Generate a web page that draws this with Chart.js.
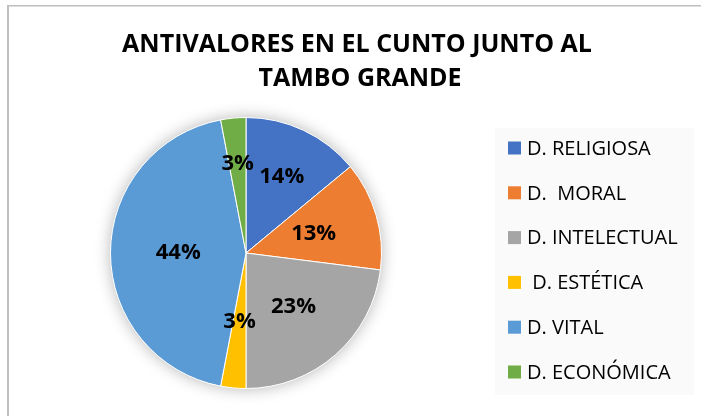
<!DOCTYPE html>
<html>
<head>
<meta charset="utf-8">
<script src="https://cdn.jsdelivr.net/npm/chart.js@4.4.0/dist/chart.umd.min.js"></script>
<style>
  html, body { margin: 0; padding: 0; background: #ffffff; }
  #chartBox { position: relative; width: 701px; height: 416px; }
</style>
</head>
<body>
<div id="chartBox">
  <canvas id="pieChart" width="701" height="416"></canvas>
</div>
<script>
// Chart data
var categories = ['D. RELIGIOSA', 'D.  MORAL', 'D. INTELECTUAL', ' D. ESTÉTICA', 'D. VITAL', 'D. ECONÓMICA'];
var percentValues = [14, 13, 23, 3, 44, 3];
var sliceColors = ['#4472C4', '#ED7D31', '#A5A5A5', '#FFC000', '#5B9BD5', '#70AD47'];
var titleLines = ['ANTIVALORES EN EL CUNTO JUNTO AL', 'TAMBO GRANDE'];

var fontFamily = '"Open Sans", "Liberation Sans", sans-serif';

// Background, border, legend panel and pie shadow
var backgroundPlugin = {
    id: 'backgroundPlugin',
    beforeDraw: function(chart) {
        var ctx = chart.ctx;
        ctx.save();
        ctx.fillStyle = '#ffffff';
        ctx.fillRect(0, 0, chart.width, chart.height);
        // light panel behind the legend
        ctx.fillStyle = '#fafafa';
        ctx.fillRect(495, 128, 199, 267);
        // outer border (only left and top are visible)
        ctx.fillStyle = '#bfbfbf';
        ctx.fillRect(7, 5, 2, chart.height - 5);
        ctx.fillRect(7, 5, chart.width - 7, 1.5);
        ctx.restore();
    },
    beforeDatasetsDraw: function(chart) {
        var arc = chart.getDatasetMeta(0).data[0];
        if (!arc) return;
        var ctx = chart.ctx;
        ctx.save();
        ctx.shadowColor = 'rgba(0,0,0,0.3)';
        ctx.shadowBlur = 16;
        ctx.fillStyle = '#ffffff';
        ctx.beginPath();
        ctx.arc(arc.x, arc.y, arc.outerRadius, 0, Math.PI * 2);
        ctx.fill();
        ctx.restore();
    }
};

// Percent labels inside slices
var sliceLabelPlugin = {
    id: 'sliceLabelPlugin',
    afterDatasetsDraw: function(chart) {
        var ctx = chart.ctx;
        var meta = chart.getDatasetMeta(0);
        var fractions = [0.62, 0.52, 0.53, 0.51, 0.5, 0.66];
        ctx.save();
        ctx.fillStyle = '#000000';
        ctx.font = 'bold 22px ' + fontFamily;
        ctx.textAlign = 'center';
        ctx.textBaseline = 'middle';
        meta.data.forEach(function(arc, i) {
            var mid = (arc.startAngle + arc.endAngle) / 2;
            var r = arc.outerRadius * fractions[i];
            var x = arc.x + Math.cos(mid) * r;
            var y = arc.y + Math.sin(mid) * r;
            ctx.fillText(percentValues[i] + '%', x, y);
        });
        ctx.restore();
    }
};

// Title and legend
var textPlugin = {
    id: 'textPlugin',
    afterDraw: function(chart) {
        var ctx = chart.ctx;
        ctx.save();
        ctx.fillStyle = '#000000';
        ctx.textBaseline = 'middle';
        ctx.textAlign = 'center';
        ctx.font = 'bold 25px ' + fontFamily;
        ctx.fillText(titleLines[0], 357, 45);
        ctx.fillText(titleLines[1], 360, 79);

        // legend
        ctx.textAlign = 'left';
        ctx.font = '20px ' + fontFamily;
        for (var i = 0; i < categories.length; i++) {
            var y = 148 + i * 44.8;
            ctx.fillStyle = sliceColors[i];
            ctx.fillRect(508, y - 6.5, 13, 13);
            ctx.fillStyle = '#000000';
            ctx.fillText(categories[i], 527, y + 1);
        }
        ctx.restore();
    }
};

var ctx = document.getElementById('pieChart').getContext('2d');

var pieChart = new Chart(ctx, {
    type: 'pie',
    data: {
        labels: categories,
        datasets: [{
            data: percentValues,
            backgroundColor: sliceColors,
            borderColor: '#ffffff',
            borderWidth: 1
        }]
    },
    options: {
        responsive: false,
        animation: false,
        layout: {
            padding: { left: 110, right: 319, top: 117, bottom: 27 }
        },
        plugins: {
            legend: { display: false },
            title: { display: false },
            tooltip: { enabled: false }
        }
    },
    plugins: [backgroundPlugin, sliceLabelPlugin, textPlugin]
});
</script>
</body>
</html>
